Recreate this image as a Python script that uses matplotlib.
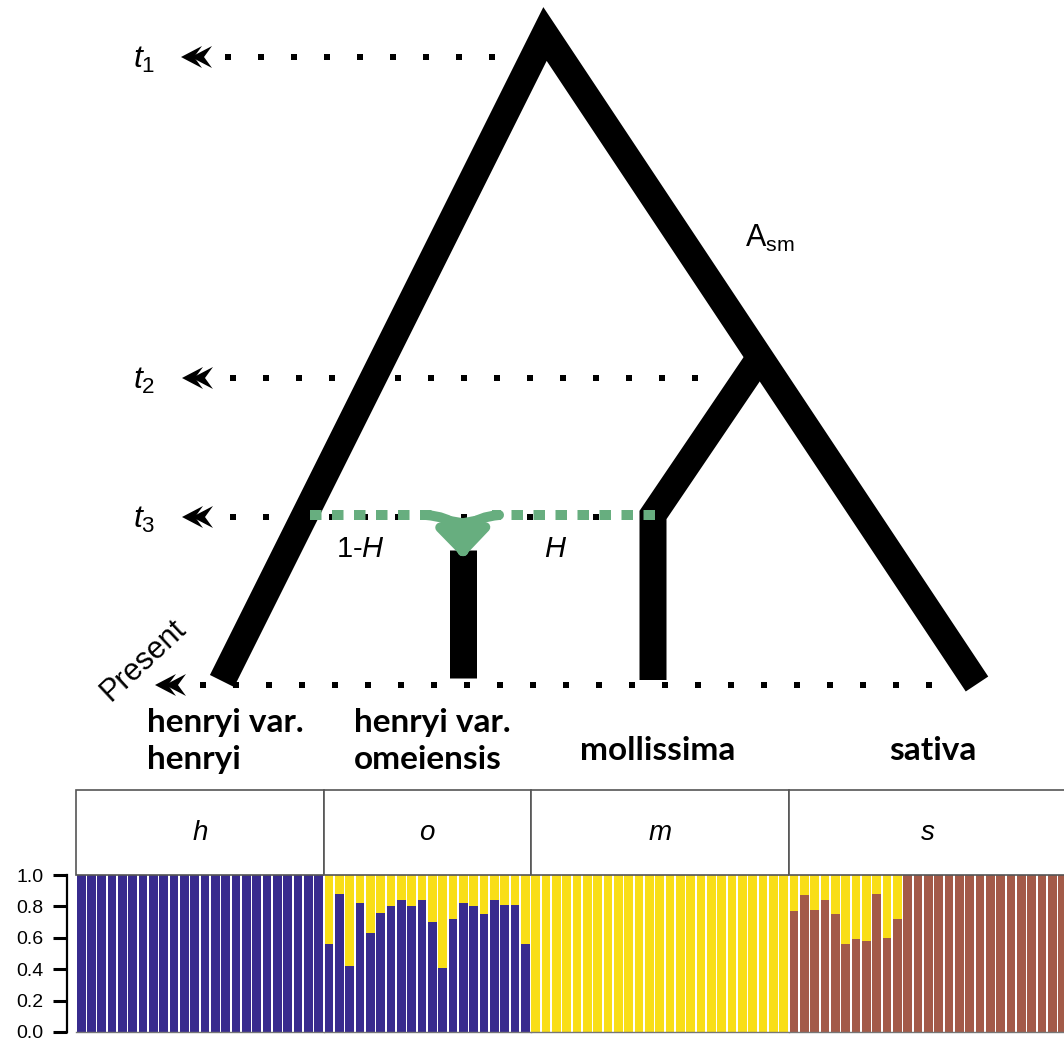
import numpy as np
import matplotlib
matplotlib.use("Agg")
import matplotlib.pyplot as plt
from matplotlib.patches import Polygon, Rectangle, FancyArrowPatch

plt.rcParams["font.family"] = ["Liberation Sans", "DejaVu Sans"]
plt.rcParams["mathtext.fontset"] = "custom"
plt.rcParams["mathtext.rm"] = "Liberation Sans"
plt.rcParams["mathtext.it"] = "Liberation Sans:italic"

# ancestry proportions per individual (blue / yellow / brown clusters)
panels = ["h", "o", "m", "s"]
h_blue = [1.0] * 24
o_blue = [0.56, 0.88, 0.42, 0.82, 0.63, 0.76, 0.80, 0.84, 0.80, 0.84,
          0.70, 0.41, 0.72, 0.82, 0.80, 0.75, 0.84, 0.81, 0.81, 0.56]
m_yellow = [1.0] * 25
s_brown = [0.77, 0.87, 0.78, 0.84, 0.75, 0.56, 0.59, 0.58, 0.88, 0.60, 0.72] + [1.0] * 16

species = ["henryi var.\nhenryi", "henryi var.\nomeiensis", "mollissima", "sativa"]
yticks = [0.0, 0.2, 0.4, 0.6, 0.8, 1.0]

BLUE = "#382b8e"
YELLOW = "#f9de17"
BROWN = "#a35a48"
GREEN = "#67ae7f"

# (blue, brown, yellow) stacked bottom to top
comps = [
    (np.array(h_blue), np.zeros(len(h_blue)), 1 - np.array(h_blue)),
    (np.array(o_blue), np.zeros(len(o_blue)), 1 - np.array(o_blue)),
    (np.zeros(len(m_yellow)), 1 - np.array(m_yellow), np.array(m_yellow)),
    (np.zeros(len(s_brown)), np.array(s_brown), 1 - np.array(s_brown)),
]

W, H = 1064, 1042
PT = 0.72  # px -> pt at dpi 100

fig = plt.figure(figsize=(W / 100, H / 100), dpi=100)

# ---- tree diagram, drawn in pixel coordinates
ax = fig.add_axes([0, 0, 1, 1])
ax.set_xlim(0, W)
ax.set_ylim(H, 0)
ax.axis("off")


def dots(x0, x1, y):
    ax.plot([x0, x1], [y, y], color="black", lw=6 * PT,
            linestyle=(0, (1, 4.5)), dash_capstyle="butt", zorder=1)


def chevrons(x, y):
    for dx in (0, 10):
        ax.add_patch(Polygon([(x + dx, y), (x + dx + 21, y - 11), (x + dx + 13, y),
                              (x + dx + 21, y + 11)], closed=True, color="black", lw=0, zorder=2))


levels = [("$t_1$", 57, 225, 505, 181), ("$t_2$", 378, 230, 705, 182),
          ("$t_3$", 517, 230, 645, 182)]
for lab, y, x0, x1, xa in levels:
    dots(x0, x1, y)
    chevrons(xa, y)
    ax.text(133, y + 3, lab, fontsize=23, ha="left", va="center")

dots(200, 950, 685)
chevrons(155, 685)
ax.text(143, 660, "Present", fontsize=22, rotation=43, ha="center", va="center",
        rotation_mode="anchor")

tree_kw = dict(color="black", lw=27 * PT, solid_capstyle="butt",
               solid_joinstyle="miter", zorder=3)
ax.plot([222, 545, 977], [681, 34, 684], **tree_kw)
ax.plot([760, 653, 653], [357, 515, 680], **tree_kw)
ax.plot([463, 463], [550, 678], **tree_kw)

ax.text(745, 238, r"A$_{\mathrm{sm}}$", fontsize=22, ha="left", va="center")
ax.text(360, 549, "1-$H$", fontsize=21, ha="center", va="center")
ax.text(556, 549, "$H$", fontsize=21, ha="center", va="center")

# hybridisation (green)
green_kw = dict(color=GREEN, lw=10 * PT, linestyle=(0, (1.15, 1.05)),
                dash_capstyle="butt", zorder=4)
ax.plot([310, 440], [515, 515], **green_kw)
ax.plot([655, 492], [515, 515], **green_kw)
for start, end, rad in [((426, 515), (461, 560), -0.55), ((499, 515), (465, 560), 0.55)]:
    ax.add_patch(FancyArrowPatch(start, end, connectionstyle=f"arc3,rad={rad}",
                                 arrowstyle="-|>,head_length=0.9,head_width=0.6",
                                 mutation_scale=22, color=GREEN, lw=10 * PT, zorder=5,
                                 shrinkA=0, shrinkB=0))

label_pos = [(147, 708, "top"), (354, 708, "top"), (580, 750, "center"), (889, 750, "center")]
for txt, (x, y, va) in zip(species, label_pos):
    ax.text(x, y, txt, fontsize=24, fontweight="bold", family=["Lato", "DejaVu Sans"],
            ha="left", va=va, linespacing=1.35)

# ---- structure bar plot panels
bar_px = 10.33
left = 76
bot_px, top_px = 1032, 875
strip_px = 85
for i, (name, (b, r, y)) in enumerate(zip(panels, comps)):
    n = len(b)
    axp = fig.add_axes([left / W, (H - bot_px) / H, n * bar_px / W, (bot_px - top_px) / H])
    left += n * bar_px
    x = np.arange(n)
    axp.bar(x, b, width=0.84, color=BLUE, lw=0)
    axp.bar(x, r, bottom=b, width=0.84, color=BROWN, lw=0)
    axp.bar(x, y, bottom=b + r, width=0.84, color=YELLOW, lw=0)
    axp.set_xlim(-0.5, n - 0.5)
    axp.set_ylim(0, 1)
    axp.set_xticks([])
    for side in ("top", "right", "left"):
        axp.spines[side].set_visible(False)
    axp.spines["bottom"].set_color("#777777")
    axp.spines["bottom"].set_linewidth(1)
    sh = strip_px / (bot_px - top_px)
    axp.add_patch(Rectangle((0, 1), 1, sh, transform=axp.transAxes, clip_on=False,
                            facecolor="white", edgecolor="#555555", lw=1.2))
    axp.text(0.5, 1 + sh / 2, name, transform=axp.transAxes, fontsize=20,
             style="italic", ha="center", va="center")
    if i == 0:
        axp.spines["left"].set_visible(True)
        axp.spines["left"].set_position(("outward", 9 * PT))
        axp.spines["left"].set_linewidth(1.6)
        axp.set_yticks(yticks)
        axp.set_yticklabels([f"{t:.1f}" for t in yticks])
        axp.tick_params(axis="y", length=14 * PT, width=2.2, labelsize=14, pad=7)
    else:
        axp.set_yticks([])

fig.savefig("out.png", dpi=100)
